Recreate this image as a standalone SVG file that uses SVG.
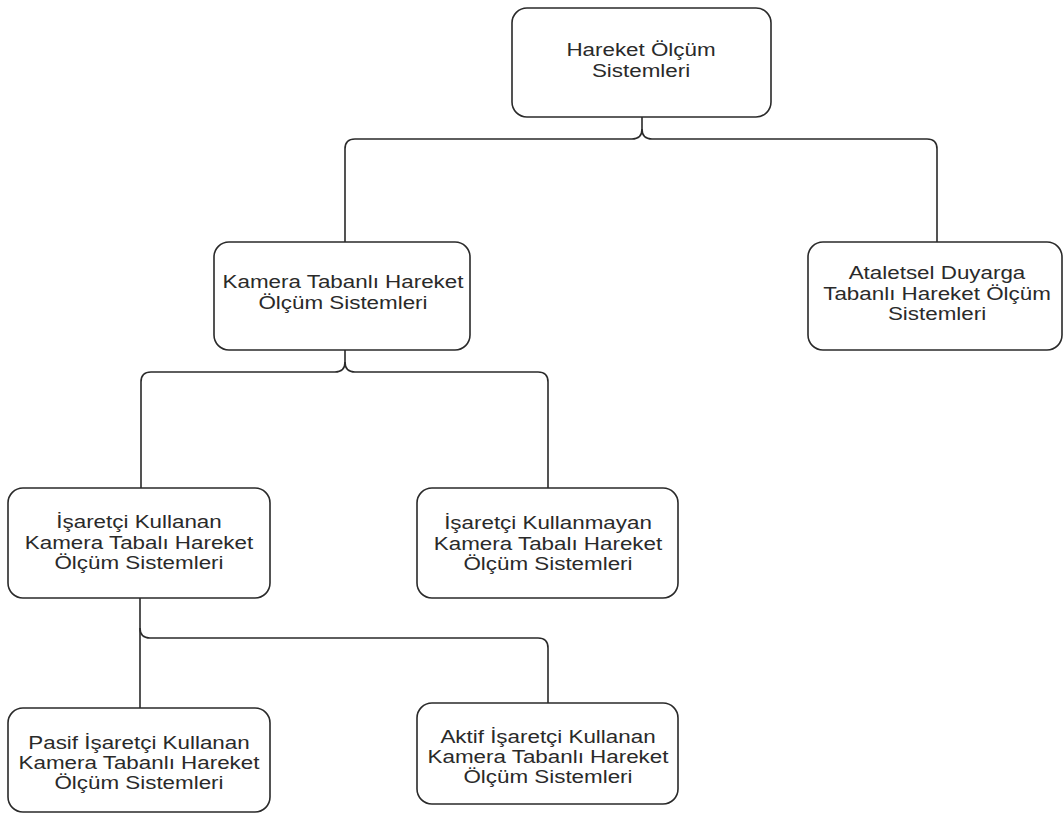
<svg xmlns="http://www.w3.org/2000/svg" width="1064" height="814" viewBox="0 0 1064 814">
<style>
.box{fill:#fff;stroke:#2a2a2a;stroke-width:1.6}
.c{fill:none;stroke:#2a2a2a;stroke-width:1.6}
text{font-family:"Liberation Sans",Arial,sans-serif;font-size:17.5px;fill:#2a2a2a;text-anchor:middle}
</style>
<rect width="1064" height="814" fill="#fff"/>
<g id="connectors">
<path class="c" d="M642 117 V129 Q642 139 632 139 H355 Q345 139 345 149 V242"/>
<path class="c" d="M642 129 Q642 139 652 139 H927 Q937 139 937 149 V242"/>
<path class="c" d="M345 350 V362 Q345 372 335 372 H151 Q141 372 141 382 V488"/>
<path class="c" d="M345 362 Q345 372 355 372 H538 Q548 372 548 382 V488"/>
<path class="c" d="M140 598 V708"/>
<path class="c" d="M140 628 Q140 638 150 638 H538 Q548 638 548 648 V703"/>
</g>
<g id="n1">
<rect class="box" x="512" y="8" width="259" height="109" rx="15"/>
<text transform="translate(641,0) scale(1.28,1)"><tspan x="0" y="56">Hareket Ölçüm</tspan><tspan x="0" y="77">Sistemleri</tspan></text>
</g>
<g id="n2">
<rect class="box" x="214" y="242" width="256" height="108" rx="15"/>
<text transform="translate(343,0) scale(1.28,1)"><tspan x="0" y="288">Kamera Tabanlı Hareket</tspan><tspan x="0" y="309">Ölçüm Sistemleri</tspan></text>
</g>
<g id="n3">
<rect class="box" x="808" y="242" width="254" height="108" rx="15"/>
<text transform="translate(937,0) scale(1.28,1)"><tspan x="0" y="279">Ataletsel Duyarga</tspan><tspan x="0" y="300">Tabanlı Hareket Ölçüm</tspan><tspan x="0" y="320">Sistemleri</tspan></text>
</g>
<g id="n4">
<rect class="box" x="8" y="488" width="262" height="110" rx="15"/>
<text transform="translate(139,0) scale(1.28,1)"><tspan x="0" y="528">İşaretçi Kullanan</tspan><tspan x="0" y="549">Kamera Tabalı Hareket</tspan><tspan x="0" y="569">Ölçüm Sistemleri</tspan></text>
</g>
<g id="n5">
<rect class="box" x="417" y="488" width="261" height="110" rx="15"/>
<text transform="translate(548,0) scale(1.28,1)"><tspan x="0" y="529">İşaretçi Kullanmayan</tspan><tspan x="0" y="550">Kamera Tabalı Hareket</tspan><tspan x="0" y="570">Ölçüm Sistemleri</tspan></text>
</g>
<g id="n6">
<rect class="box" x="8" y="708" width="262" height="104" rx="15"/>
<text transform="translate(139,0) scale(1.28,1)"><tspan x="0" y="749">Pasif İşaretçi Kullanan</tspan><tspan x="0" y="769">Kamera Tabanlı Hareket</tspan><tspan x="0" y="789">Ölçüm Sistemleri</tspan></text>
</g>
<g id="n7">
<rect class="box" x="417" y="703" width="261" height="101" rx="15"/>
<text transform="translate(548,0) scale(1.28,1)"><tspan x="0" y="743">Aktif İşaretçi Kullanan</tspan><tspan x="0" y="763">Kamera Tabanlı Hareket</tspan><tspan x="0" y="783">Ölçüm Sistemleri</tspan></text>
</g>
</svg>
